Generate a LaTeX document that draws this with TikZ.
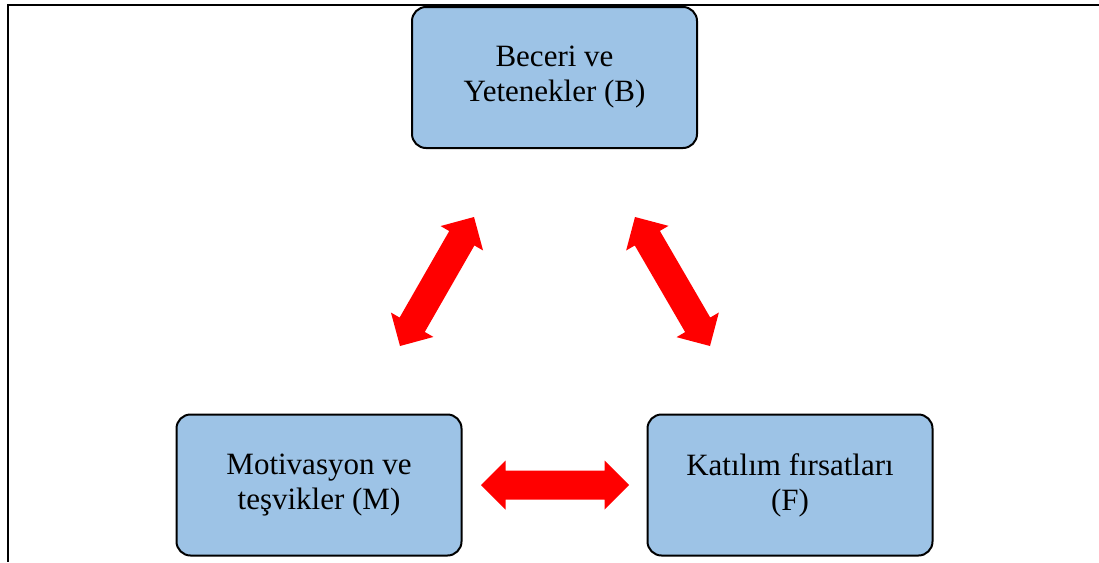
\documentclass[tikz,border=0pt]{standalone}
\usepackage{fontspec}
\setmainfont{Liberation Serif}
\usetikzlibrary{calc}

\definecolor{boxblue}{HTML}{9DC3E6}
\definecolor{arrowred}{HTML}{FF0000}

% block double-headed arrow between two coordinates
% half head width 24.5pt, half shaft width 14.5pt, head length 24.5pt
\newcommand\fatarrow[2]{%
  \fill[arrowred] (#1)
    -- ($(#1)!24.5pt!(#2)!24.5pt!90:(#2)$)
    -- ($(#1)!24.5pt!(#2)!14.5pt!90:(#2)$)
    -- ($(#2)!24.5pt!(#1)!14.5pt!-90:(#1)$)
    -- ($(#2)!24.5pt!(#1)!24.5pt!-90:(#1)$)
    -- (#2)
    -- ($(#2)!24.5pt!(#1)!24.5pt!90:(#1)$)
    -- ($(#2)!24.5pt!(#1)!14.5pt!90:(#1)$)
    -- ($(#1)!24.5pt!(#2)!14.5pt!-90:(#2)$)
    -- ($(#1)!24.5pt!(#2)!24.5pt!-90:(#2)$)
    -- cycle;}

\begin{document}
\begin{tikzpicture}[x=1pt,y=-1pt,
  factor/.style={draw=black, line width=2pt, fill=boxblue,
    rounded corners=14pt, minimum width=285pt, minimum height=141pt,
    align=center, inner sep=0pt,
    font=\fontsize{31}{35}\selectfont},
  frameline/.style={draw=black, line width=2pt}]

  \useasboundingbox (0,0) rectangle (1099,562);

  % open frame: top edge and left edge
  \draw[frameline] (1099,5) -- (8,5) -- (8,562);

  % the three factors
  \node[factor] (B) at (554.5,77.5) {Beceri ve\\Yetenekler (B)};
  \node[factor] (M) at (319,485) {Motivasyon ve\\teşvikler (M)};
  \node[factor] (F) at (790,485) {Katılım fırsatları\\(F)};

  % ends of the connecting arrows
  \coordinate (mb1) at (400,346);
  \coordinate (mb2) at (474,217);
  \coordinate (bf1) at (635,217);
  \coordinate (bf2) at (710,346);
  \coordinate (mf1) at (481,485);
  \coordinate (mf2) at (629,485);

  \fatarrow{mb1}{mb2}
  \fatarrow{bf1}{bf2}
  \fatarrow{mf1}{mf2}
\end{tikzpicture}
\end{document}
